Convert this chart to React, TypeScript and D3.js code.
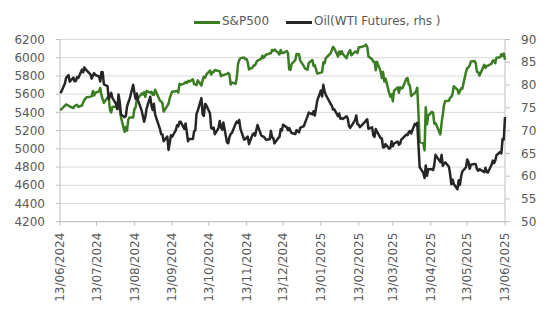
import React from "react";
import * as d3 from "d3";

// Trading days (one line per month)
const dates: string[] = [
  ...[13,14,17,18,20,21,24,25,26,27,28].map(d => `2024-06-${d}`),
  ...[1,2,3,5,8,9,10,11,12,15,16,17,18,19,22,23,24,25,26,29,30,31].map(d => `2024-07-${d}`),
  ...[1,2,5,6,7,8,9,12,13,14,15,16,19,20,21,22,23,26,27,28,29,30].map(d => `2024-08-${d}`),
  ...[3,4,5,6,9,10,11,12,13,16,17,18,19,20,23,24,25,26,27,30].map(d => `2024-09-${d}`),
  ...[1,2,3,4,7,8,9,10,11,14,15,16,17,18,21,22,23,24,25,28,29,30,31].map(d => `2024-10-${d}`),
  ...[1,4,5,6,7,8,11,12,13,14,15,18,19,20,21,22,25,26,27,29].map(d => `2024-11-${d}`),
  ...[2,3,4,5,6,9,10,11,12,13,16,17,18,19,20,23,24,26,27,30,31].map(d => `2024-12-${d}`),
  ...[2,3,6,7,8,10,13,14,15,16,17,21,22,23,24,27,28,29,30,31].map(d => `2025-01-${d}`),
  ...[3,4,5,6,7,10,11,12,13,14,18,19,20,21,24,25,26,27,28].map(d => `2025-02-${d}`),
  ...[3,4,5,6,7,10,11,12,13,14,17,18,19,20,21,24,25,26,27,28,31].map(d => `2025-03-${d}`),
  ...[1,2,3,4,7,8,9,10,11,14,15,16,17,21,22,23,24,25,28,29,30].map(d => `2025-04-${d}`),
  ...[1,2,5,6,7,8,9,12,13,14,15,16,19,20,21,22,23,27,28,29,30].map(d => `2025-05-${d}`),
  ...[2,3,4,5,6,9,10,11,12,13].map(d => `2025-06-${d}`),
];

const spx: number[] = [
  5433.7,5431.6,5473.2,5487.0,5473.2,5464.6,5447.9,5469.3,5477.9,5482.9,5460.5,
  5475.1,5509.0,5537.0,5567.2,5572.9,5577.0,5633.9,5584.5,5615.4,5631.2,5667.2,5588.3,5544.6,5505.0,5564.4,5555.7,5427.1,5399.2,5459.1,5463.5,5436.4,5522.3,
  5446.7,5346.6,5186.3,5240.0,5199.5,5319.3,5344.2,5344.4,5434.4,5455.2,5543.2,5554.3,5608.3,5597.1,5620.9,5570.6,5634.6,5616.8,5625.8,5592.2,5592.0,5648.4,
  5528.9,5520.1,5503.4,5408.4,5471.1,5495.5,5554.1,5595.8,5626.0,5633.1,5634.6,5618.3,5713.6,5702.6,5718.6,5732.9,5722.3,5745.4,5738.2,5762.5,
  5708.8,5709.5,5699.9,5751.1,5695.9,5751.1,5792.0,5780.1,5815.0,5859.9,5815.3,5842.5,5841.5,5864.7,5854.0,5851.2,5797.4,5809.9,5808.1,5823.5,5832.9,5813.7,5705.5,
  5728.8,5712.7,5782.8,5929.0,5973.1,5995.5,6001.4,5984.0,5985.4,5949.2,5870.6,5893.6,5917.0,5917.1,5948.7,5969.3,5987.4,6021.6,5998.7,6032.4,
  6047.2,6049.9,6086.5,6075.1,6090.3,6052.9,6034.9,6084.2,6051.3,6051.1,6074.1,6050.6,5872.2,5867.1,5930.9,5974.1,6040.0,6037.6,5970.8,5906.9,5881.6,
  5868.6,5942.5,5975.4,5909.0,5918.3,5827.0,5836.2,5842.9,5949.9,5937.3,5996.7,6049.2,6086.4,6118.7,6101.2,6012.3,6067.7,6039.3,6071.2,6040.5,
  5994.6,6037.9,6061.5,6083.6,6026.0,6066.4,6068.5,6052.0,6115.1,6114.6,6129.6,6144.2,6117.5,6013.1,5983.3,5955.3,5956.1,5861.6,5954.5,
  5849.7,5778.2,5842.6,5738.5,5770.2,5614.6,5572.1,5599.3,5521.5,5638.9,5675.1,5614.7,5675.3,5662.9,5667.6,5767.6,5776.7,5712.2,5693.3,5580.9,5611.9,
  5633.1,5671.0,5396.5,5074.1,5062.3,4982.8,5456.9,5268.1,5363.4,5406.0,5396.6,5275.7,5282.7,5158.2,5287.8,5375.9,5484.8,5525.2,5528.8,5560.8,5569.1,
  5604.1,5686.7,5650.4,5606.9,5631.3,5663.9,5659.9,5844.2,5886.6,5892.6,5916.9,5958.4,5963.6,5940.5,5844.6,5842.0,5802.8,5921.5,5888.6,5912.2,5911.7,
  5935.9,5970.4,5970.8,5939.3,6000.4,6005.9,6038.8,6022.2,6045.3,5977.0,
];

const wti: number[] = [
  78.62,78.45,80.33,81.57,82.17,80.73,81.63,80.83,80.90,81.74,81.54,
  83.38,82.81,83.88,83.16,82.33,81.41,82.10,82.62,82.21,81.91,80.76,82.85,82.82,80.13,79.78,76.96,77.59,78.28,77.16,75.81,74.73,77.91,
  76.31,73.52,72.94,73.20,75.23,76.19,76.84,80.06,78.35,76.98,78.16,76.65,74.37,73.17,71.93,73.01,74.83,77.42,75.53,74.52,75.91,73.55,
  70.34,69.20,69.15,67.67,68.71,65.75,67.31,68.97,68.65,70.09,71.19,70.91,71.95,71.92,70.37,71.56,69.69,67.67,68.18,68.17,
  69.83,70.10,73.71,74.38,77.14,73.57,73.24,75.85,75.56,73.83,70.58,70.39,70.67,69.22,70.56,72.09,70.77,70.19,71.78,67.38,67.21,68.61,69.26,
  69.49,71.47,71.99,71.69,72.36,70.38,68.04,68.12,68.43,68.70,67.02,69.16,69.39,68.87,70.10,71.24,68.94,68.77,68.72,68.00,
  68.10,69.94,68.54,68.30,67.20,68.37,68.59,70.29,70.02,71.29,70.71,70.08,70.58,69.91,69.46,69.24,70.10,69.62,70.60,70.99,71.72,
  73.13,73.96,73.56,74.25,73.32,76.57,78.82,77.50,80.04,78.68,77.88,75.83,75.44,74.62,74.66,73.17,73.77,72.62,72.73,72.53,
  73.16,72.70,71.03,70.61,71.00,72.32,73.32,71.37,71.29,70.74,71.85,72.25,72.48,70.40,70.70,68.93,68.62,70.35,69.76,
  68.37,68.26,66.31,66.36,67.04,66.03,66.25,67.68,66.55,67.18,67.58,66.90,67.16,68.07,68.28,69.11,69.00,69.65,69.92,69.36,71.48,
  71.20,71.71,66.95,61.99,60.70,59.58,62.35,60.07,61.50,61.53,61.33,62.47,64.68,63.08,64.67,62.27,62.79,63.02,62.05,60.42,58.21,
  59.24,58.29,57.13,59.09,58.07,59.91,61.02,61.95,63.67,63.15,61.62,62.49,62.69,62.56,61.57,61.20,61.53,60.89,61.84,60.94,60.79,
  62.52,63.41,62.85,63.37,64.58,65.29,64.98,68.15,68.04,72.98,
];

const xTickLabels = [
  "13/06/2024","13/07/2024","13/08/2024","13/09/2024","13/10/2024","13/11/2024","13/12/2024",
  "13/01/2025","13/02/2025","13/03/2025","13/04/2025","13/05/2025","13/06/2025",
];
const leftTicks = [4200,4400,4600,4800,5000,5200,5400,5600,5800,6000,6200];
const rightTicks = [50,55,60,65,70,75,80,85,90];
const seriesNames = ["S&P500", "Oil(WTI Futures, rhs )"];

const GREEN = "#3B7D23";
const BLACK = "#262626";
const FONT = "DejaVu Sans, Verdana, sans-serif";
const TXT = "#595959";

const parse = d3.timeParse("%Y-%m-%d");
const parseLbl = d3.timeParse("%d/%m/%Y");

export default function App() {
  const left = 60, right = 505, top = 39.5, bottom = 221.7;
  const parsed = dates.map(d => {
    const [y, m, dd] = d.split("-");
    return parse(`${y}-${m}-${dd.padStart(2, "0")}`)!;
  });
  const tickDates = xTickLabels.map(l => parseLbl(l)!);
  const x = d3.scaleTime().domain([tickDates[0], tickDates[tickDates.length - 1]]).range([left, right]);
  const yL = d3.scaleLinear().domain([4200, 6200]).range([bottom, top]);
  const yR = d3.scaleLinear().domain([50, 90]).range([bottom, top]);
  const lineL = d3.line<number>().x((_, i) => x(parsed[i])).y(v => yL(v));
  const lineR = d3.line<number>().x((_, i) => x(parsed[i])).y(v => yR(v));

  return (
    <svg width={548} height={324} style={{ position: "absolute", left: 0, top: 0, background: "#fff" }} fontFamily={FONT}>
      {leftTicks.map(t => (
        <line key={"g" + t} x1={left} x2={right} y1={yL(t)} y2={yL(t)} stroke="#d9d9d9" strokeWidth={1} />
      ))}
      {/* axes */}
      <line x1={left} x2={left} y1={top} y2={bottom} stroke="#bfbfbf" />
      <line x1={right} x2={right} y1={top} y2={bottom} stroke="#bfbfbf" />
      <line x1={left} x2={right} y1={bottom} y2={bottom} stroke="#bfbfbf" />
      {leftTicks.map(t => (
        <g key={"l" + t}>
          <line x1={left - 4} x2={left} y1={yL(t)} y2={yL(t)} stroke="#bfbfbf" />
          <text x={45} y={yL(t)} dy="0.35em" textAnchor="end" fontSize={12} fill={TXT}>{t}</text>
        </g>
      ))}
      {rightTicks.map(t => (
        <g key={"r" + t}>
          <line x1={right} x2={right + 5} y1={yR(t)} y2={yR(t)} stroke="#bfbfbf" />
          <text x={521} y={yR(t)} dy="0.35em" textAnchor="start" fontSize={12} fill={TXT}>{t}</text>
        </g>
      ))}
      {tickDates.map((d, i) => (
        <g key={"x" + i}>
          <line x1={x(d)} x2={x(d)} y1={bottom} y2={bottom + 4} stroke="#bfbfbf" />
          <text transform={`translate(${x(d)},${bottom + 11}) rotate(-90)`} dy="0.35em" textAnchor="end" fontSize={12} fill={TXT}>{xTickLabels[i]}</text>
        </g>
      ))}
      <path d={lineL(spx)!} fill="none" stroke={GREEN} strokeWidth={2.5} strokeLinejoin="round" />
      <path d={lineR(wti)!} fill="none" stroke={BLACK} strokeWidth={2.5} strokeLinejoin="round" />
      {/* legend */}
      <line x1={194} x2={220} y1={22.5} y2={22.5} stroke={GREEN} strokeWidth={3} />
      <text x={222} y={21} dy="0.35em" fontSize={12} fill={TXT}>{seriesNames[0]}</text>
      <line x1={286} x2={312} y1={22.5} y2={22.5} stroke={BLACK} strokeWidth={3} />
      <text x={314} y={21} dy="0.35em" fontSize={12} fill={TXT}>{seriesNames[1]}</text>
    </svg>
  );
}
